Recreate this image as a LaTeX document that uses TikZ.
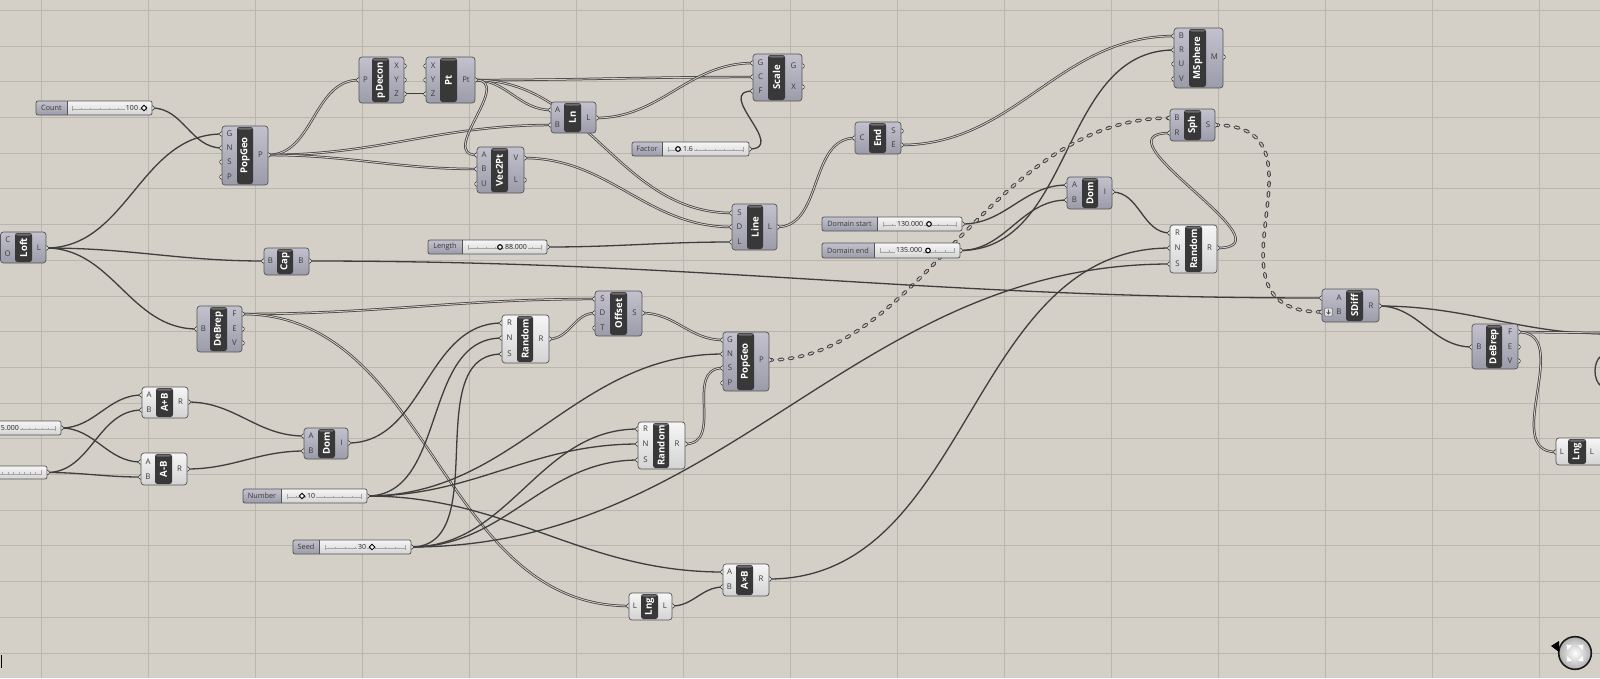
\documentclass[tikz,border=0pt]{standalone}
\usepackage{fontspec}
\setmainfont{Open Sans}
\pgfdeclarelayer{gridl}
\pgfdeclarelayer{wires}
\pgfdeclarelayer{ports}
\pgfsetlayers{gridl,wires,ports,main}
\definecolor{bgc}{HTML}{D4D0C8}
\definecolor{gridc}{HTML}{BAB6AE}
\definecolor{wirec}{HTML}{3E3E3E}
\definecolor{wirein}{HTML}{CFCCC6}
\definecolor{bodyT}{HTML}{C2C1CD}
\definecolor{bodyB}{HTML}{9C9BA9}
\definecolor{liteT}{HTML}{F6F6F6}
\definecolor{liteB}{HTML}{D3D3D3}
\definecolor{gborder}{HTML}{555555}
\definecolor{capsc}{HTML}{383838}
\definecolor{shinec}{HTML}{6C6C6C}
\definecolor{labc}{HTML}{3A3A3A}
\definecolor{trackc}{HTML}{A5A5A5}
\definecolor{valbg}{HTML}{E4E4E4}
\tikzset{
 gbody/.style={draw=gborder, line width=0.7pt, rounded corners=3pt, inner sep=0pt, outer sep=0pt},
 graybody/.style={top color=bodyT, bottom color=bodyB},
 lightbody/.style={top color=liteT, bottom color=liteB},
 gcaps/.style={fill=capsc, rounded corners=2.5pt},
 gtitle/.style={rotate=90, text=white, font=\bfseries\fontsize{9.6}{10}\selectfont, inner sep=0pt},
 gplabel/.style={text=labc, font=\fontsize{7.8}{8}\selectfont, inner sep=0pt},
 gport/.style={fill=white, draw=black!80, line width=0.6pt},
 gwire/.style={draw=wirec, line width=1.3pt},
 glist/.style={draw=wirec, line width=0.75pt, double=wirein, double distance=0.9pt},
 gtree/.style={draw=wirec, line width=1.05pt, double=wirein, double distance=1.4pt, line cap=round, dash pattern=on 3.6pt off 6.6pt},
 gsltext/.style={text=labc, font=\fontsize{7.3}{8}\selectfont, inner sep=0pt},
 gval/.style={text=black!85, font=\fontsize{7}{8}\selectfont, fill=valbg, inner sep=0.8pt},
 knob/.style={fill=white, draw=black, line width=0.8pt},
}
% component: name, x1, y1, x2, y2, capsule x1, capsule x2, title, body style
\newcommand\gcomp[9]{%
 \def\gxa{#2}\def\gxb{#4}%
 \def\glx{(#2+#6)/2}\def\grx{(#7+#4)/2}%
 \node[gbody,#9,minimum width={(#4-(#2))*1pt},minimum height={(#5-(#3))*1pt}] (#1) at ({(#2+#4)/2},{(#3+#5)/2}) {};
 \fill[gcaps] (#6,{#3+1}) rectangle (#7,{#5-1});
 \fill[shinec, rounded corners=1.5pt] ({#6+1},{#3+1.5}) rectangle ({#7-1},{#3+3.5});
 \node[gtitle] at ({(#6+#7)/2},{(#3+#5)/2}) {#8};
}
\newcommand\gin[3]{%
 \coordinate (#1) at (\gxa,#2);
 \begin{pgfonlayer}{ports}\draw[gport] (\gxa,#2) circle (2.3pt);\end{pgfonlayer}
 \node[gplabel] at ({\glx},#2) {#3};
}
\newcommand\gout[3]{%
 \coordinate (#1) at (\gxb,#2);
 \begin{pgfonlayer}{ports}\draw[gport] (\gxb,#2) circle (2.3pt);\end{pgfonlayer}
 \node[gplabel] at ({\grx},#2) {#3};
}
% slider: name, x1, y1, x2, y2, label end, label
\newcommand\gslider[7]{%
 \node[inner sep=0pt, outer sep=0pt, top color=liteT, bottom color=liteB, rounded corners=2pt, minimum width={(#4-(#2))*1pt}, minimum height={(#5-(#3))*1pt}] (#1) at ({(#2+#4)/2},{(#3+#5)/2}) {};
 \begin{scope}
  \clip[rounded corners=2pt] (#2,#3) rectangle (#4,#5);
  \fill[top color=bodyT, bottom color=bodyB] (#2,#3) rectangle (#6,#5);
 \end{scope}
 \draw[gborder, line width=0.5pt] (#6,#3) -- (#6,#5);
 \draw[gborder, line width=0.7pt, rounded corners=2pt] (#2,#3) rectangle (#4,#5);
 \node[gsltext] at ({(#2+#6)/2},{(#3+#5)/2}) {#7};
 \coordinate (#1o) at (#4,{(#3+#5)/2});
 \begin{pgfonlayer}{ports}\draw[gport] (#4,{(#3+#5)/2}) circle (2.3pt);\end{pgfonlayer}
}
\newcommand\gtrack[3]{%
 \draw[trackc, line width=0.5pt] (#1,{#3+1.5}) -- (#2,{#3+1.5});
 \foreach \gi in {0,...,8}{\draw[trackc, line width=0.4pt] ({#1+\gi*(#2-(#1))/8},{#3+1.5}) -- ++(0,-1.6);}
 \draw[trackc, line width=0.5pt] (#1,{#3+2.5}) -- (#1,{#3-2.5}) (#2,{#3+2.5}) -- (#2,{#3-2.5});
}
\newcommand\gdia[2]{\draw[knob] (#1,{#2-2.8}) -- ({#1+2.8},#2) -- (#1,{#2+2.8}) -- ({#1-2.8},#2) -- cycle;}
\newcommand\gcirc[2]{\draw[knob, line width=1.1pt] (#1,#2) circle (2.3pt);}
\begin{document}
\begin{tikzpicture}[x=1pt,y=-1pt]
\useasboundingbox (0,0) rectangle (1600,678);
\begin{pgfonlayer}{gridl}
 \fill[bgc] (0,0) rectangle (1600,678);
 \foreach \i in {0,...,14} {\draw[gridc, line width=0.8pt] ({41.7+107*\i},0) -- ++(0,678);}
 \foreach \j in {0,...,18} {\draw[gridc, line width=0.8pt] (0,{10.3+35.7*\j}) -- ++(1600,0);}
\end{pgfonlayer}

% ---------- components ----------
\gcomp{pg1}{222}{126}{268}{185}{237}{253}{PopGeo}{graybody}
\gin{pg1G}{134}{G}\gin{pg1N}{148}{N}\gin{pg1S}{162}{S}\gin{pg1P}{177}{P}\gout{pg1o}{155}{P}

\gcomp{pdc}{359}{57}{404}{103}{372}{389}{pDecon}{graybody}
\gin{pdcP}{80}{P}\gout{pdcX}{66}{X}\gout{pdcY}{80}{Y}\gout{pdcZ}{94}{Z}

\gcomp{pt}{426}{57}{475}{103}{440}{457}{Pt}{graybody}
\gin{ptX}{66}{X}\gin{ptY}{80}{Y}\gin{ptZ}{94}{Z}\gout{pto}{80}{Pt}

\gcomp{ln}{551}{102}{596}{133}{564}{581}{Ln}{graybody}
\gin{lnA}{110}{A}\gin{lnB}{125}{B}\gout{lnL}{118}{L}

\gcomp{v2p}{477}{147}{524}{193}{491}{508}{Vec2Pt}{graybody}
\gin{v2pA}{155}{A}\gin{v2pB}{169}{B}\gin{v2pU}{184}{U}\gout{v2pV}{158}{V}\gout{v2pL}{180}{L}

\gcomp{sc}{753}{54}{802}{101}{768}{785}{Scale}{graybody}
\gin{scG}{63}{G}\gin{scC}{77}{C}\gin{scF}{91}{F}\gout{scGo}{66}{G}\gout{scX}{87}{X}

\gcomp{lin}{732}{204}{777}{250}{747}{763}{Line}{graybody}
\gin{linS}{213}{S}\gin{linD}{227}{D}\gin{linL}{242}{L}\gout{linO}{227}{L}

\gcomp{loft}{0.5}{232}{46}{263}{15}{32}{Loft}{graybody}
\gin{loftC}{240}{C}\gin{loftO}{254}{O}\gout{loftL}{248}{L}

\gcomp{cap}{264}{248}{309}{275}{277}{293}{Cap}{graybody}
\gin{capB}{261}{B}\gout{capO}{261}{B}

\gcomp{dbl}{197}{306}{242}{352}{210}{227}{DeBrep}{graybody}
\gin{dblB}{329}{B}\gout{dblF}{314}{F}\gout{dblE}{329}{E}\gout{dblV}{343}{V}

\gcomp{apb}{142}{387}{188}{418}{156}{173}{A+B}{lightbody}
\gin{apbA}{395}{A}\gin{apbB}{410}{B}\gout{apbR}{402}{R}

\gcomp{amb}{141}{453}{187}{485}{155}{172}{A-B}{lightbody}
\gin{ambA}{462}{A}\gin{ambB}{477}{B}\gout{ambR}{469}{R}

\gcomp{dom1}{304}{428}{348}{459}{318}{335}{Dom}{graybody}
\gin{dom1A}{436}{A}\gin{dom1B}{451}{B}\gout{dom1I}{443}{I}

\gcomp{rnd1}{502}{315}{549}{363}{517}{533}{Random}{lightbody}
\gin{rnd1R}{323}{R}\gin{rnd1N}{338}{N}\gin{rnd1S}{354}{S}\gout{rnd1o}{339}{R}

\gcomp{off}{595}{291}{642}{336}{610}{627}{Offset}{graybody}
\gin{offS}{299}{S}\gin{offD}{313}{D}\gin{offT}{328}{T}\gout{offo}{313}{S}

\gcomp{pg2}{723}{332}{769}{391}{737}{754}{PopGeo}{graybody}
\gin{pg2G}{340}{G}\gin{pg2N}{354}{N}\gin{pg2S}{368}{S}\gin{pg2P}{383}{P}\gout{pg2o}{360}{P}

\gcomp{rnd2}{638}{422}{685}{469}{653}{669}{Random}{lightbody}
\gin{rnd2R}{429}{R}\gin{rnd2N}{444}{N}\gin{rnd2S}{460}{S}\gout{rnd2o}{444}{R}

\gcomp{mul}{723}{564}{769}{596}{736}{753}{A×B}{lightbody}
\gin{mulA}{572}{A}\gin{mulB}{587}{B}\gout{mulR}{579}{R}

\gcomp{lng1}{629}{593}{672}{620}{641}{658}{Lng}{lightbody}
\gin{lng1L}{606}{L}\gout{lng1o}{606}{L}

\gcomp{endc}{855}{122}{901}{154}{869}{886}{End}{graybody}
\gin{endC}{138}{C}\gout{endS}{131}{S}\gout{endE}{145}{E}

\gcomp{msph}{1174}{28}{1223}{88}{1189}{1206}{MSphere}{graybody}
\gin{msB}{36}{B}\gin{msR}{50}{R}\gin{msU}{64}{U}\gin{msV}{79}{V}\gout{msM}{57}{M}

\gcomp{sph}{1170}{109}{1215}{141}{1184}{1201}{Sph}{graybody}
\gin{sphB}{118}{B}\gin{sphR}{133}{R}\gout{sphS}{125}{S}

\gcomp{dom2}{1067}{177}{1112}{209}{1082}{1098}{Dom}{graybody}
\gin{dom2A}{185}{A}\gin{dom2B}{200}{B}\gout{dom2I}{192}{I}

\gcomp{rnd3}{1170}{225}{1217}{273}{1185}{1202}{Random}{lightbody}
\gin{rnd3R}{233}{R}\gin{rnd3N}{248}{N}\gin{rnd3S}{264}{S}\gout{rnd3o}{248}{R}

\gcomp{sdf}{1322}{289}{1379}{322}{1346}{1363}{SDiff}{graybody}
\def\glx{1339}
\gin{sdfA}{298}{A}\gin{sdfB}{312}{B}\gout{sdfR}{306}{R}
\draw[fill=black!12, draw=black!60, line width=0.5pt, rounded corners=1pt] (1324.5,308) rectangle (1332.5,316);
\draw[black!70, line width=0.6pt] (1328.5,309.5) -- (1328.5,313.5) (1326.5,312) -- (1328.5,314.2) -- (1330.5,312);

\gcomp{dbr}{1472}{324}{1518}{369}{1486}{1502}{DeBrep}{graybody}
\gin{dbrB}{347}{B}\gout{dbrF}{332}{F}\gout{dbrE}{347}{E}\gout{dbrV}{361}{V}

\gcomp{lng2}{1556}{438}{1603}{465}{1568}{1586}{Lng}{lightbody}
\gin{lng2L}{452}{L}
\node[gplabel] at (1592,452) {L};

% ---------- sliders ----------
\gslider{sCount}{36}{101}{152}{115}{67}{Count}
\gtrack{72}{146}{108}\node[gval,anchor=east] at (139,108) {100};\gdia{144}{108}

\gslider{sFactor}{632}{142}{749}{156}{662}{Factor}
\gtrack{668}{743}{149}\gcirc{678}{149}\node[gval,anchor=west] at (682,149) {1.6};

\gslider{sLength}{428}{240}{547}{254}{462}{Length}
\gtrack{468}{541}{247}\gcirc{500}{247}\node[gval,anchor=west] at (504,247) {88.000};

\gslider{sDs}{822}{217}{962}{231}{877}{Domain start}
\gtrack{883}{956}{224}\node[gval,anchor=east] at (924,224) {130.000};\gcirc{929}{224}

\gslider{sDe}{822}{243}{960}{258}{874}{Domain end}
\gtrack{880}{954}{250.5}\node[gval,anchor=east] at (923,250.5) {135.000};\gcirc{928}{250.5}

\gslider{sNum}{243}{489}{367}{503}{281}{Number}
\gtrack{287}{361}{496}\gdia{302}{496}\node[gval,anchor=west] at (306,496) {10};

\gslider{sSeed}{293}{540}{411}{554}{319}{Seed}
\gtrack{325}{405}{547}\node[gval,anchor=east] at (367,547) {30};\gdia{372}{547}

\gslider{sL1}{-20}{421}{61}{435}{-5}{}
\gtrack{3}{55}{428}\node[gval,anchor=west] at (0,428) {5.000};

\gslider{sL2}{-20}{466}{47}{479}{-5}{}
\gtrack{-3}{41}{472.5}

% ---------- free wire ends ----------
\coordinate (edgeA) at (1610,334);
\coordinate (edgeB) at (1610,333);
\coordinate (edgeC) at (1601,356);
\coordinate (edgeD) at (1601,386);

% ---------- wires ----------
\begin{pgfonlayer}{wires}
\draw[gwire] (sCounto) to[out=0,in=180] (pg1N);
\draw[gwire] (loftL) to[out=0,in=180] (pg1G);
\draw[gwire] (loftL) to[out=0,in=180] (capB);
\draw[gwire] (loftL) to[out=0,in=180] (dblB);
\draw[glist] (pg1o) to[out=0,in=180] (pdcP);
\draw[glist] (pg1o) to[out=0,in=180] (lnB);
\draw[glist] (pg1o) to[out=0,in=180] (v2pB);
\draw[glist] (pdcZ) -- (ptZ);
\draw[glist] (pto) to[out=0,in=180] (scC);
\draw[glist] (pto) to[out=0,in=180] (lnA);
\draw[glist] (pto) to[out=0,in=180] (linS);
\draw[glist] (pto) .. controls +(40,0) and +(-40,0) .. (v2pA);
\draw[glist] (v2pV) to[out=0,in=180] (linD);
\draw[gwire] (sLengtho) to[out=0,in=180] (linL);
\draw[glist] (lnL) to[out=0,in=180] (scG);
\draw[gwire] (sFactoro) .. controls +(40,0) and +(-40,0) .. (scF);
\draw[glist] (linO) to[out=0,in=180] (endC);
\draw[glist] (endE) to[out=0,in=180] (msB);
\draw[gwire] (sDso) to[out=0,in=180] (dom2A);
\draw[gwire] (sDeo) to[out=0,in=180] (dom2B);
\draw[gwire] (sDeo) to[out=0,in=180] (msR);
\draw[gwire] (dom2I) to[out=0,in=180] (rnd3R);
\draw[glist] (rnd3o) .. controls +(80,0) and +(-80,0) .. (sphR);
\draw[gtree] (pg2o) .. controls +(150,0) and +(-180,0) .. (sphB);
\draw[gtree] (sphS) .. controls +(125,0) and +(-132,0) .. (sdfB);
\draw[gwire] (capO) .. controls +(400,0) and +(-400,0) .. (sdfA);
\draw[gwire] (sdfR) to[out=0,in=180] (dbrB);
\draw[gwire] (sdfR) .. controls +(90,0) and +(-90,0) .. (edgeA);
\draw[glist] (dbrF) -- (edgeB);
\draw[glist] (dbrF) .. controls +(57,0) and +(-56,0) .. (lng2L);
\draw[gwire] (edgeC) .. controls (1593,362) and (1593,380) .. (edgeD);
\draw[glist] (dblF) to[out=0,in=180] (offS);
\draw[glist] (dblF) to[out=0,in=180] (lng1L);
\draw[glist] (rnd1o) to[out=0,in=180] (offD);
\draw[glist] (offo) to[out=0,in=180] (pg2G);
\draw[glist] (rnd2o) .. controls +(40,0) and +(-40,0) .. (pg2S);
\draw[gwire] (sNumo) to[out=0,in=180] (rnd1N);
\draw[gwire] (sNumo) to[out=0,in=180] (pg2N);
\draw[gwire] (sNumo) to[out=0,in=180] (rnd2N);
\draw[gwire] (sNumo) to[out=0,in=180] (mulA);
\draw[gwire] (sSeedo) to[out=0,in=180] (rnd1S);
\draw[gwire] (sSeedo) to[out=0,in=180] (rnd2R);
\draw[gwire] (sSeedo) to[out=0,in=180] (rnd2S);
\draw[gwire] (sSeedo) .. controls +(317,0) and +(-317,0) .. (rnd3S);
\draw[gwire] (lng1o) to[out=0,in=180] (mulB);
\draw[gwire] (mulR) to[out=0,in=180] (rnd3N);
\draw[gwire] (dom1I) to[out=0,in=180] (rnd1R);
\draw[gwire] (sL1o) to[out=0,in=180] (apbA);
\draw[gwire] (sL1o) to[out=0,in=180] (ambA);
\draw[gwire] (sL2o) to[out=0,in=180] (apbB);
\draw[gwire] (sL2o) to[out=0,in=180] (ambB);
\draw[gwire] (apbR) to[out=0,in=180] (dom1A);
\draw[gwire] (ambR) to[out=0,in=180] (dom1B);
\end{pgfonlayer}

% ---------- navigation widget and corner mark ----------
\shade[inner color=white, outer color=black!30] (1575,653) circle (15.5pt);
\draw[black!90, line width=1.6pt] (1575,653) circle (16.3pt);
\foreach \a in {45,135,225,315} {\fill[white, rotate around={\a:(1575,653)}] (1587,653) -- (1582.5,649.8) -- (1582.5,656.2) -- cycle;}
\fill[black] (1551,646) -- (1559,641) -- (1559,652) -- cycle;
\draw[black, line width=1pt] (1,655) -- (1,668);
\end{tikzpicture}
\end{document}
